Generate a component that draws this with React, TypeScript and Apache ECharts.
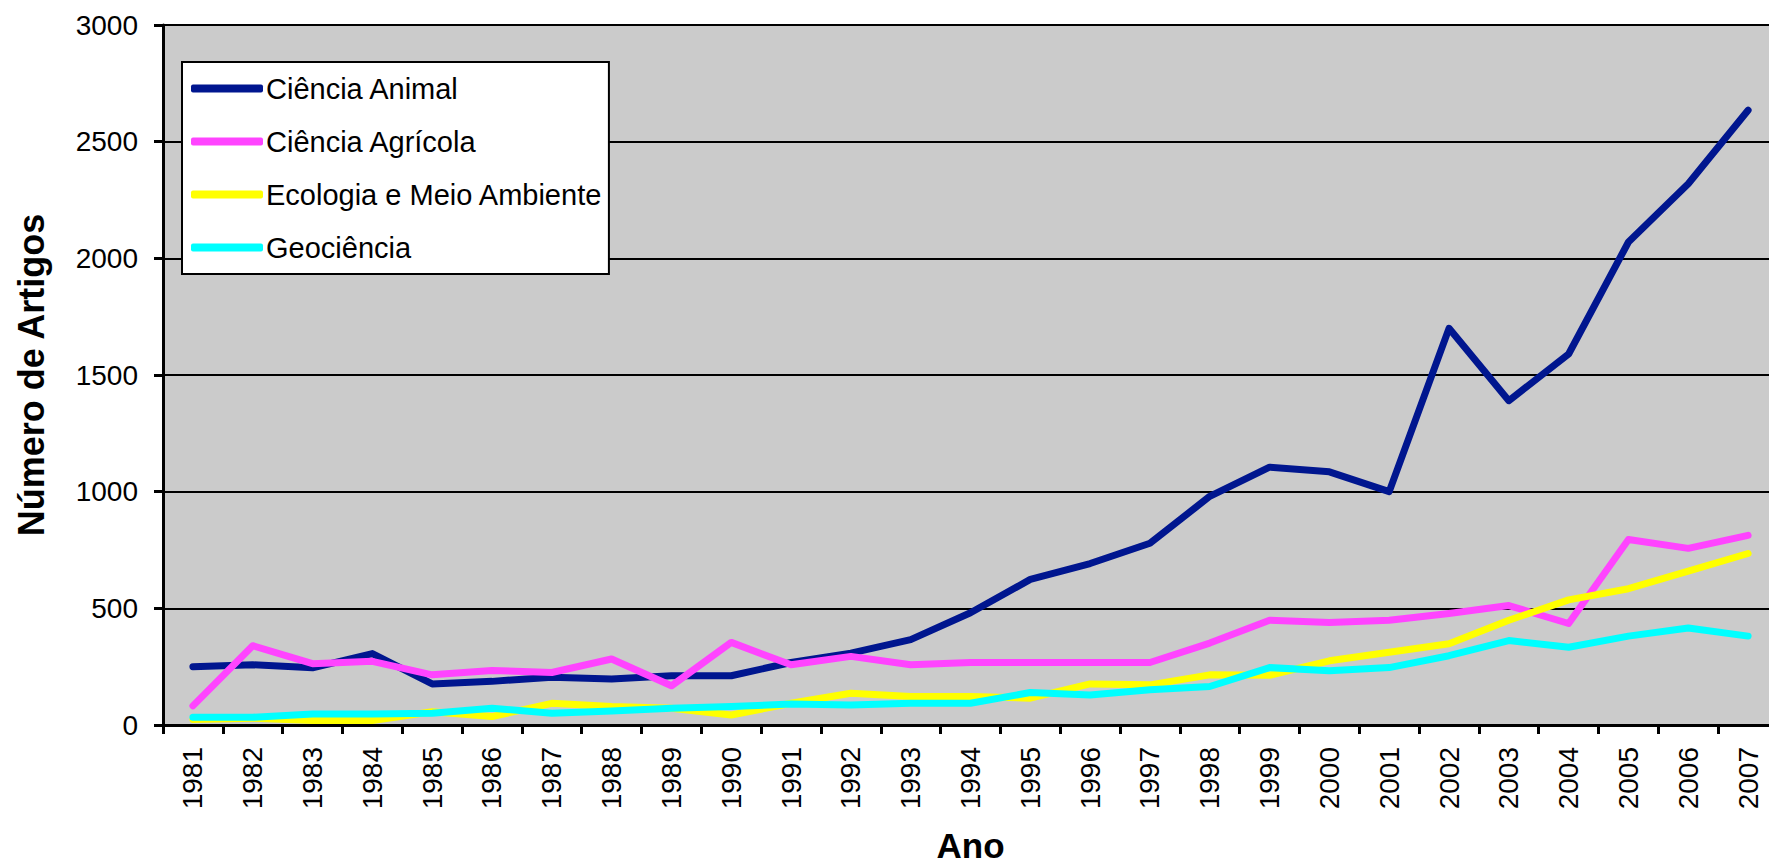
import React, { useEffect, useRef } from "react";
import * as echarts from "echarts";

const years = ["1981","1982","1983","1984","1985","1986","1987","1988","1989","1990","1991","1992","1993","1994","1995","1996","1997","1998","1999","2000","2001","2002","2003","2004","2005","2006","2007"];
const cienciaAnimal = [250, 258, 245, 306, 176, 187, 205, 197, 211, 211, 268, 308, 366, 481, 624, 692, 779, 980, 1105, 1085, 1000, 1700, 1390, 1590, 2070, 2320, 2635];
const cienciaAgricola = [82, 340, 263, 273, 215, 234, 225, 283, 168, 354, 258, 294, 258, 268, 268, 268, 268, 351, 449, 439, 449, 478, 512, 435, 795, 757, 813];
const ecologia = [24, 29, 19, 19, 57, 36, 93, 79, 72, 43, 93, 136, 122, 122, 115, 176, 172, 215, 213, 275, 312, 348, 449, 536, 584, 659, 735];
const geociencia = [33, 33, 47, 47, 50, 72, 50, 60, 72, 79, 90, 86, 93, 93, 139, 129, 151, 165, 246, 232, 246, 297, 362, 333, 381, 416, 381];
const yTicks = { min: 0, max: 3000, step: 500 };

const seriesNames = ["Ciência Animal", "Ciência Agrícola", "Ecologia e Meio Ambiente", "Geociência"];
const seriesColors = ["#00168F", "#FF44FF", "#FFFF00", "#00FFFF"];
const seriesData = [cienciaAnimal, cienciaAgricola, ecologia, geociencia];

const FONT = "'Liberation Sans', Arial, sans-serif";

export default function App() {
  const ref = useRef<HTMLDivElement>(null);
  useEffect(() => {
    if (!ref.current) return;
    const chart = echarts.init(ref.current, null, { renderer: "svg" });
    chart.setOption({
      animation: false,
      backgroundColor: "#ffffff",
      grid: {
        left: 163,
        top: 25,
        right: -9,
        bottom: 138,
        outerBoundsMode: "none",
        containLabel: false,
        show: true,
        backgroundColor: "#cbcbcb",
        borderColor: "#808080",
        borderWidth: 2,
      },
      legend: {
        orient: "vertical",
        left: 182,
        top: 62,
        padding: [12, 6, 12, 9],
        backgroundColor: "#ffffff",
        borderColor: "#000000",
        borderWidth: 2,
        itemWidth: 72,
        itemHeight: 8,
        itemGap: 24,
        icon: "roundRect",
        data: seriesNames,
        textStyle: { fontSize: 29, fontFamily: FONT, color: "#000", lineHeight: 28, padding: [0, 0, 0, -2] },
      },
      xAxis: {
        type: "category",
        data: years,
        boundaryGap: true,
        name: "Ano",
        nameLocation: "middle",
        nameGap: 105,
        nameTextStyle: { fontSize: 35, lineHeight: 30, fontWeight: "bold", fontFamily: FONT, color: "#000" },
        axisLine: { lineStyle: { color: "#000", width: 3 } },
        axisTick: { show: true, length: 9, lineStyle: { color: "#000", width: 3 } },
        axisLabel: { rotate: 90, fontSize: 28, fontFamily: FONT, color: "#000", margin: 22, interval: 0 },
        splitLine: { show: false },
      },
      yAxis: {
        type: "value",
        min: yTicks.min,
        max: yTicks.max,
        interval: yTicks.step,
        name: "Número de Artigos",
        nameLocation: "middle",
        nameRotate: 90,
        nameGap: 114,
        nameTextStyle: { fontSize: 36, fontWeight: "bold", fontFamily: FONT, color: "#000" },
        axisLine: { show: true, lineStyle: { color: "#000", width: 3 } },
        axisTick: { show: true, length: 9, lineStyle: { color: "#000", width: 3 } },
        axisLabel: { fontSize: 28, fontFamily: FONT, color: "#000", margin: 25, formatter: (v: number) => String(v) },
        splitLine: { show: true, lineStyle: { color: "#000", width: 2 } },
      },
      series: seriesNames.map((name, i) => ({
        name,
        type: "line",
        data: seriesData[i],
        symbol: "none",
        smooth: false,
        color: seriesColors[i],
        lineStyle: { color: seriesColors[i], width: 7, cap: "round", join: "round" },
      })),
    });
    return () => chart.dispose();
  }, []);
  return (
    <div
      ref={ref}
      style={{ position: "absolute", left: 0, top: 0, width: 1769, height: 863, overflow: "hidden" }}
    />
  );
}
